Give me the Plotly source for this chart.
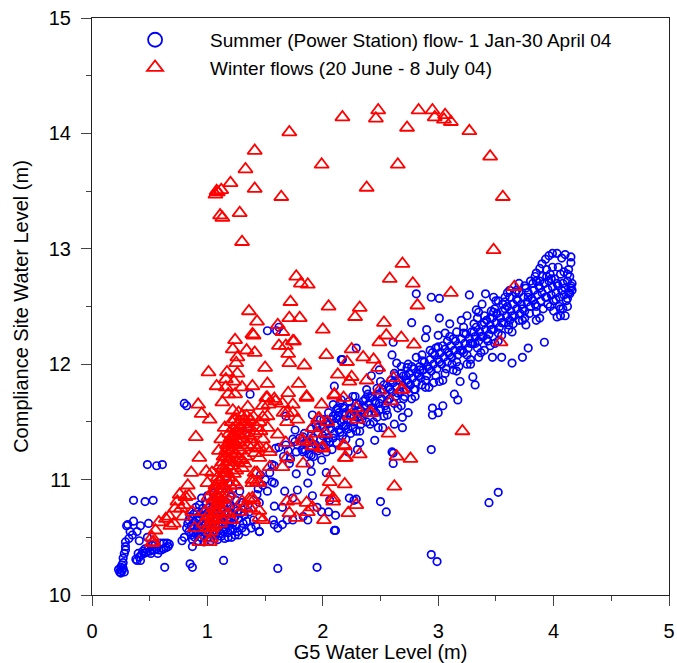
import plotly.graph_objects as go

# ---- Summer (Power Station) flow: (G5 level, Compliance level) pairs ----
summer_hook_pts = [
    (0.24,10.20),(0.25,10.19),(0.26,10.21),(0.23,10.22),(0.27,10.23),(0.25,10.24),(0.28,10.20),
    (0.26,10.26),(0.27,10.28),(0.27,10.32),(0.28,10.36),(0.29,10.39),(0.29,10.42),(0.29,10.46),
    (0.32,10.49),(0.30,10.60),(0.31,10.61),(0.36,10.82),(0.46,10.81),(0.53,10.82),(0.48,11.13),
    (0.56,11.12),(0.61,11.13),(0.39,10.55),(0.42,10.60),(0.49,10.62),(0.41,10.47),(0.48,10.50),
    (0.39,10.30),(0.41,10.33),(0.43,10.35),(0.45,10.36),(0.47,10.37),(0.50,10.38),(0.52,10.39),
    (0.54,10.39),(0.56,10.40),(0.58,10.39),(0.60,10.39),(0.62,10.40),(0.64,10.41),(0.66,10.42),
    (0.67,10.44),(0.65,10.45),(0.62,10.45),(0.59,10.45),(0.55,10.44),(0.52,10.43),(0.49,10.41),
    (0.46,10.40),(0.44,10.38),(0.40,10.36),(0.38,10.31),(0.42,10.30),(0.51,10.36),(0.57,10.36),
    (0.63,10.24),(0.87,10.42),(0.85,10.27),(0.87,10.24),(1.14,10.30),(1.61,10.23),(1.95,10.24),
    (0.35,10.52),(0.33,10.55),(0.36,10.64),
]
summer_blob_pts = [
    (0.82,10.58),(0.84,10.55),(0.86,10.52),(0.88,10.54),(0.90,10.56),(0.92,10.53),(0.94,10.55),
    (0.96,10.52),(0.98,10.54),(1.00,10.56),(1.02,10.53),(1.04,10.55),(1.06,10.52),(1.08,10.54),
    (1.10,10.56),(1.12,10.53),(1.14,10.55),(1.16,10.57),(1.18,10.54),(1.20,10.56),(0.83,10.62),
    (0.86,10.60),(0.89,10.63),(0.92,10.60),(0.95,10.62),(0.98,10.60),(1.01,10.63),(1.04,10.61),
    (1.07,10.64),(1.10,10.61),(1.13,10.63),(1.16,10.62),(1.19,10.64),(1.22,10.62),(1.25,10.60),
    (0.85,10.68),(0.88,10.70),(0.91,10.67),(0.94,10.70),(0.97,10.68),(1.00,10.71),(1.03,10.69),
    (1.06,10.72),(1.09,10.70),(1.12,10.73),(1.15,10.70),(1.18,10.72),(1.21,10.70),(1.24,10.68),
    (1.27,10.66),(0.90,10.76),(0.93,10.78),(0.96,10.75),(0.99,10.79),(1.02,10.76),(1.05,10.80),
    (1.08,10.77),(1.11,10.81),(1.14,10.78),(1.17,10.80),(1.20,10.77),(1.23,10.75),(1.26,10.73),
    (1.29,10.71),(1.32,10.69),(0.95,10.84),(1.00,10.86),(1.05,10.88),(1.10,10.85),(1.15,10.88),
    (1.20,10.85),(1.25,10.82),(1.30,10.80),(1.35,10.78),(0.87,10.48),(0.92,10.47),(0.97,10.46),
    (1.03,10.47),(1.09,10.48),(1.15,10.49),(1.21,10.50),(1.27,10.52),(1.33,10.55),(1.38,10.58),
    (1.42,10.60),(1.45,10.55),(1.40,10.65),(1.36,10.72),(1.22,10.92),(1.18,10.97),(1.28,10.90),
    (0.80,10.50),(0.78,10.47),
    (0.84,10.65),(0.88,10.58),(0.91,10.72),(0.95,10.58),(0.99,10.66),(1.03,10.58),(1.07,10.60),
    (1.11,10.67),(1.15,10.59),(1.19,10.60),(1.23,10.66),(1.26,10.55),(1.31,10.62),(1.34,10.64),
    (0.89,10.50),(0.94,10.50),(1.00,10.50),(1.06,10.49),(1.12,10.51),(1.18,10.50),(1.24,10.52),
    (1.30,10.58),(0.87,10.66),(0.93,10.65),(0.97,10.72),(1.02,10.70),(1.08,10.67),(1.13,10.68),
    (1.17,10.66),(1.22,10.57),
]
summer_mid_pts = [
    (0.80,11.66),(0.82,11.64),(1.37,11.74),(1.52,12.29),(1.60,12.29),(1.62,12.32),(2.17,12.04),
    (1.68,11.55),(2.09,11.65),(2.12,11.61),(2.16,11.69),(2.03,11.50),(1.83,11.37),(1.76,11.33),
    (1.35,11.44),(1.46,11.04),(1.56,11.13),(1.59,11.27),(1.76,11.43),(1.61,10.58),(1.69,10.65),
    (1.74,10.65),(1.78,10.91),(1.87,10.97),(1.91,10.86),(1.95,10.76),(1.99,10.72),(1.87,10.65),
    (2.11,10.69),(2.11,10.56),(2.23,10.84),(2.27,10.82),(1.91,11.56),(1.74,11.35),(1.68,11.30),
    (1.77,11.24),(1.83,11.24),(1.90,11.21),(1.71,11.14),(1.89,11.14),(1.99,11.17),(2.03,11.06),
    (1.90,11.07),(1.77,11.05),(1.58,10.97),(1.67,10.90),(2.12,11.32),(2.08,11.26),(2.22,11.24),
    (2.32,11.32),(2.30,11.26),(2.45,11.34),(2.60,11.24),(2.61,11.14),(2.29,10.83),(2.50,10.81),
    (2.55,10.72),(2.10,10.56),(1.45,10.55),(1.57,10.65),(1.65,10.61),(1.58,10.61),(1.74,10.84),
    (1.65,10.76),(1.58,10.77),(1.83,10.68),(1.45,10.80),(1.43,10.87),(2.06,10.82),(2.05,10.72),
    (3.52,10.89),(3.44,10.80),(2.94,10.35),(2.99,10.29),(2.94,11.26),(1.78,11.30),(1.80,11.36),
    (1.82,11.26),(1.84,11.40),(1.86,11.32),(1.88,11.22),(1.90,11.44),(1.92,11.20),(1.94,11.48),
    (1.96,11.25),(1.98,11.52),(2.01,11.30),(2.03,11.24),(2.06,11.33),(2.09,11.55),(2.14,11.58),
    (2.18,11.62),(2.23,11.68),(2.28,11.72),(1.70,11.25),(1.72,11.18),(1.66,11.20),(1.62,11.28),
    (1.58,11.12),(1.54,11.06),(1.50,11.00),(1.48,10.95),(1.44,10.92),(1.52,10.90),(1.56,10.98),
]
summer_band_pts = [
    (1.85,11.25),(1.88,11.32),(1.90,11.28),(1.92,11.36),(1.94,11.30),(1.96,11.40),(1.98,11.34),
    (2.00,11.45),(2.00,11.38),(2.02,11.42),(2.04,11.48),(2.05,11.36),(2.07,11.44),(2.08,11.52),
    (2.10,11.40),(2.11,11.47),(2.13,11.55),(2.14,11.43),(2.16,11.50),(2.18,11.46),(2.19,11.58),
    (2.21,11.52),(2.22,11.44),(2.24,11.56),(2.25,11.62),(2.27,11.50),(2.28,11.58),(2.30,11.54),
    (2.31,11.65),(2.33,11.60),(2.34,11.52),(2.36,11.63),(2.37,11.70),(2.39,11.58),(2.40,11.66),
    (2.42,11.62),(2.43,11.72),(2.45,11.68),(2.46,11.58),(2.48,11.74),(2.49,11.66),(2.51,11.70),
    (2.52,11.78),(2.54,11.64),(2.55,11.73),(2.57,11.80),(2.58,11.70),(2.60,11.76),(2.61,11.84),
    (2.63,11.72),(2.64,11.80),(2.66,11.86),(2.67,11.76),(2.69,11.82),(2.70,11.90),(2.72,11.78),
    (2.73,11.86),(2.75,11.92),(2.76,11.82),(2.78,11.88),(2.79,11.96),(2.81,11.84),(2.82,11.92),
    (2.84,11.98),(2.85,11.88),(2.87,11.95),(2.88,12.02),(2.90,11.90),(2.91,11.98),(2.93,12.04),
    (2.94,11.94),(2.96,12.00),(2.97,12.08),(2.99,11.96),(3.00,12.04),(3.02,12.10),(3.03,12.00),
    (3.05,12.06),(3.06,12.13),(3.08,12.02),(3.09,12.10),(3.11,12.16),(3.12,12.06),(3.14,12.12),
    (3.15,12.20),(3.17,12.08),(3.18,12.16),(3.20,12.22),(3.21,12.12),(3.23,12.18),(3.24,12.26),
    (3.26,12.14),(3.27,12.22),(3.29,12.28),(3.30,12.18),(3.32,12.24),(3.33,12.32),(3.35,12.20),
    (3.36,12.28),(3.38,12.34),(3.39,12.24),(3.41,12.30),(3.42,12.38),(3.44,12.26),(3.45,12.34),
    (3.47,12.40),(3.48,12.30),(3.50,12.36),(3.51,12.44),(3.53,12.32),(3.54,12.40),(3.56,12.46),
    (3.57,12.36),(3.59,12.42),(3.60,12.50),(3.62,12.38),(3.63,12.46),(3.65,12.52),(3.66,12.42),
    (3.68,12.48),(3.69,12.55),(3.71,12.44),(3.72,12.52),(3.74,12.58),(3.75,12.46),(3.77,12.54),
    (3.78,12.62),(3.80,12.50),(3.81,12.57),(3.83,12.64),(3.84,12.52),(3.86,12.60),(3.87,12.68),
    (3.89,12.55),(3.90,12.62),(3.92,12.70),(3.93,12.58),(3.95,12.65),(3.96,12.72),(3.98,12.60),
    (3.99,12.67),(4.01,12.74),(4.02,12.62),(4.04,12.68),(4.05,12.58),(4.07,12.64),(4.08,12.70),
    (4.10,12.66),(4.12,12.72),(4.13,12.62),(4.15,12.68),
    (2.05,11.58),(2.15,11.66),(2.20,11.35),(2.26,11.72),(2.32,11.42),(2.38,11.78),(2.44,11.50),
    (2.50,11.85),(2.56,11.56),(2.62,11.92),(2.68,11.64),(2.74,12.00),(2.80,11.72),(2.86,12.08),
    (2.92,11.80),(2.98,12.14),(3.04,11.86),(3.10,12.24),(3.16,11.94),(3.22,12.32),(3.28,12.04),
    (3.34,12.40),(3.40,12.12),(3.46,12.46),(3.52,12.20),(3.58,12.54),(3.64,12.28),(3.70,12.62),
    (3.76,12.34),(3.82,12.70),(3.88,12.40),(3.94,12.76),(4.00,12.46),(4.06,12.78),(4.11,12.55),
    (3.97,12.50),(3.85,12.45),(3.73,12.38),(3.61,12.30),(3.49,12.18),(3.37,12.10),(3.25,12.00),
    (3.13,11.95),(3.01,11.85),(2.89,11.80),(2.77,11.70),(2.65,11.62),(2.53,11.55),(2.41,11.48),
    (2.29,11.42),(2.17,11.38),
    (2.81,12.61),(2.94,12.58),(3.01,12.57),(2.77,12.36),(2.29,12.14),(2.61,12.19),(2.89,12.23),
    (3.01,12.40),(3.06,12.27),(2.60,12.08),(2.16,12.04),(2.81,12.06),(2.10,11.81),(2.42,11.90),
    (2.64,12.01),(2.68,11.98),(2.73,11.97),(2.49,11.95),(3.41,12.61),(3.52,12.55),(3.78,12.14),
    (3.73,12.06),(3.64,12.01),(3.55,12.06),(3.47,12.06),(3.32,11.82),(3.30,11.89),(3.19,11.85),
    (3.14,11.74),(3.17,11.69),(3.04,11.64),(2.95,11.62),(2.95,11.56),(3.00,11.58),(2.74,11.58),
    (2.69,11.54),(2.62,11.48),(2.69,11.45),(2.52,11.45),(2.48,11.45),(2.61,11.23),
    (3.60,12.62),(3.70,12.70),(3.50,12.55),(3.35,12.45),(3.45,12.40),(2.90,12.30),(3.10,12.35),
    (3.20,12.38),(3.00,12.25),(3.25,12.42),
]
summer_band_fill_pts = [
    (1.95,11.45),(1.97,11.27),(2.01,11.52),(2.03,11.33),(2.06,11.49),(2.09,11.36),(2.12,11.53),
    (2.15,11.41),(2.17,11.57),(2.20,11.47),(2.23,11.61),(2.26,11.45),(2.29,11.66),(2.32,11.55),
    (2.35,11.68),(2.38,11.50),(2.41,11.71),(2.44,11.62),(2.47,11.79),(2.50,11.61),(2.53,11.82),
    (2.56,11.68),(2.59,11.86),(2.62,11.66),(2.65,11.75),(2.68,11.92),(2.71,11.72),(2.74,11.84),
    (2.77,11.98),(2.80,11.78),(2.83,11.90),(2.86,12.03),(2.89,11.86),(2.92,11.96),(2.95,12.10),
    (2.98,11.90),(3.01,12.02),(3.04,12.16),(3.07,11.96),(3.10,12.08),(3.13,12.22),(3.16,12.02),
    (3.19,12.12),(3.22,12.27),(3.25,12.08),(3.28,12.18),(3.31,12.35),(3.34,12.14),(3.37,12.24),
    (3.40,12.42),(3.43,12.20),(3.46,12.30),(3.49,12.48),(3.52,12.27),(3.55,12.36),(3.58,12.58),
    (3.61,12.34),(3.64,12.42),(3.67,12.62),(3.70,12.38),(3.73,12.48),(3.76,12.66),(3.79,12.44),
    (3.82,12.55),(3.85,12.38),(3.88,12.66),(3.91,12.48),(3.94,12.58),(3.97,12.78),(4.00,12.55),
    (4.03,12.70),(4.06,12.48),(4.09,12.60),(4.12,12.50),(4.14,12.76),(4.16,12.64),(4.09,12.80),
    (4.04,12.84),(3.99,12.84),(3.94,12.82),(3.90,12.76),(3.80,12.72),(3.75,12.68),(3.68,12.64),
    (3.62,12.58),(3.56,12.52),(3.48,12.45),(3.40,12.36),(3.31,12.28),(3.22,12.10),(3.16,12.28),
    (3.08,12.20),(3.00,12.15),(2.93,12.12),(2.86,11.82),(2.79,11.78),(2.70,11.70),(2.63,11.90),
    (2.55,11.60),(2.47,11.54),(2.39,11.74),(2.33,11.48),(2.24,11.40),(2.13,11.62),(3.55,12.25),
    (3.65,12.35),(3.75,12.40),(3.85,12.50),(3.95,12.52),(4.02,12.56),(3.45,12.16),(3.35,12.06),
    (3.28,12.00),(3.18,11.98),(3.06,11.92),(2.96,11.84),(3.58,12.48),(3.68,12.56),(3.78,12.58),
    (3.88,12.72),(3.98,12.74),(3.42,12.22),(3.32,12.18),(3.12,12.00),(2.84,11.95),(2.72,11.90),
    (2.58,11.78),(2.46,11.66),(2.36,11.58),(2.27,11.55),(2.18,11.52),
    (3.38,12.52),(3.48,12.58),(3.27,12.60),(3.62,12.64),(3.33,12.47),
]
summer_loop_pts = [
    (4.03,12.96),(4.10,12.95),(4.15,12.93),(4.15,12.88),(4.13,12.82),(4.12,12.78),(3.99,12.96),
    (3.96,12.94),(3.93,12.91),(3.90,12.87),(3.88,12.83),(3.85,12.79),(3.84,12.76),(3.85,12.72),
    (4.16,12.70),(4.15,12.66),(4.14,12.61),(4.12,12.57),(4.10,12.42),(4.06,12.42),(4.03,12.41),
    (3.92,12.19),(4.07,12.92),(4.05,12.50),(4.08,12.48),
]

# ---- Winter flows: (G5 level, Compliance level) pairs ----
winter_top_pts = [
    (2.17,14.14),(2.48,14.20),(2.46,14.13),(2.83,14.20),(2.95,14.20),(2.97,14.14),(3.06,14.16),
    (3.05,14.12),(3.11,14.10),(3.27,14.02),(2.73,14.05),(3.45,13.80),(2.65,13.73),(2.38,13.53),
    (3.56,13.45),(3.48,12.99),(2.69,12.87),(2.58,12.74),(2.78,12.70),(3.11,12.62),(3.66,12.67),
    (2.82,12.51),(2.32,12.49),(1.71,14.01),(1.41,13.85),(1.33,13.69),(1.20,13.57),(1.07,13.47),
    (1.09,13.49),(1.08,13.50),(1.12,13.51),(1.41,13.52),(1.64,13.45),(1.99,13.73),(1.11,13.29),
    (1.13,13.27),(1.28,13.31),(1.30,13.06),(1.77,12.76),(1.81,12.70),(1.87,12.69),
]
winter_mid_pts = [
    (1.72,12.54),(1.36,12.46),(1.43,12.37),(2.05,12.50),(2.28,12.41),(2.53,12.36),(2.00,12.30),
    (1.61,12.34),(1.80,12.40),(1.71,12.40),(1.40,12.25),(1.65,12.28),(1.75,12.20),(1.62,12.16),
    (1.68,12.16),(1.24,12.21),(1.22,12.13),(1.34,12.12),(1.41,12.10),(1.26,12.06),(1.25,12.01),
    (1.70,12.09),(1.71,12.01),(1.50,11.97),(1.84,11.99),(1.01,11.93),(1.17,11.93),(1.26,11.92),
    (2.03,12.08),(2.21,12.02),(2.25,12.13),(2.35,12.06),(2.44,12.04),(2.49,12.19),(2.55,12.25),
    (2.13,11.91),(2.25,11.89),(2.48,11.97),(2.68,12.23),(2.79,12.17),(2.61,11.88),(2.38,11.86),
    (2.49,11.77),(2.68,11.78),(2.10,11.74),(2.18,11.71),(1.86,11.72),(1.39,12.26),(1.74,12.20),
    (1.23,11.85),(2.23,11.85),(1.16,11.87),(1.08,11.81),(1.16,11.80),(1.30,11.80),(1.39,11.81),
    (1.18,11.74),(1.24,11.74),(1.51,11.71),(1.58,11.70),(1.65,11.66),(0.92,11.65),(1.13,11.67),
    (1.35,11.63),(1.22,11.60),(1.66,11.58),(0.95,11.57),(1.02,11.52),(1.40,11.54),(1.45,11.50),
    (0.90,11.37),(0.93,11.19),(1.97,11.53),(2.02,11.40),(1.91,11.29),(2.00,11.28),(2.18,11.30),
    (2.19,11.19),(1.83,11.33),(1.54,11.24),(1.45,11.28),(1.41,11.23),
    (1.52,11.83),(1.79,11.83),(1.70,11.75),(1.86,11.71),(1.52,11.71),(1.59,11.68),(1.53,11.65),
    (1.48,11.64),(1.74,11.65),(1.69,11.58),(1.74,11.58),(1.78,11.52),(1.69,11.50),(1.52,11.55),
    (1.48,11.54),(1.43,11.45),(1.52,11.45),(1.61,11.39),(1.68,11.32),(1.82,11.35),(1.91,11.45),
    (1.96,11.53),(2.04,11.50),(1.99,11.65),(2.10,11.73),(2.29,11.62),(2.23,11.55),(2.30,11.52),
    (2.42,11.58),(2.59,11.68),(2.69,11.78),(2.57,11.40),(1.95,11.40),(1.89,11.33),(1.99,11.27),
    (2.19,11.29),(2.32,11.22),(2.20,11.19),(2.64,11.20),(2.76,11.18),(1.83,11.14),(1.69,11.19),
    (1.51,11.27),(1.43,11.27),(1.45,11.19),(1.65,11.11),(1.54,11.11),(1.43,11.06),(1.39,11.00),
    (1.45,10.97),(2.09,11.06),(2.06,10.98),(2.19,10.96),(2.62,10.94),(2.04,10.89),(2.09,10.84),
    (2.09,10.81),(1.69,10.81),(1.75,10.82),(1.86,10.80),(1.91,10.76),(1.87,10.72),(2.29,10.78),
    (1.71,10.71),(1.45,10.73),(1.48,10.65),(1.39,10.84),(1.77,10.67),(2.22,10.71),(2.01,10.65),
    (1.37,10.75),(3.21,11.42),(2.41,11.58),(3.54,12.19),
]
winter_cluster_pts = [
    (0.86,11.06),(0.83,10.95),(0.76,10.87),(0.81,10.85),(0.84,10.86),(0.74,10.81),(0.80,10.78),
    (0.72,10.75),(0.77,10.75),(0.87,10.72),(0.79,10.68),(0.67,10.68),(0.64,10.66),(0.71,10.62),
    (0.68,10.60),(0.58,10.63),(0.55,10.56),(0.52,10.50),(0.53,10.46),(0.52,10.45),(0.89,10.58),
    (0.93,10.46),(1.03,10.49),(1.02,10.46),(1.04,10.58),(0.99,11.07),(1.04,11.06),(1.00,10.97),
    (1.11,11.00),(1.17,11.06),(1.30,11.17),(1.32,11.14),(1.41,11.06),(1.39,10.97),(1.43,10.98),
    (1.36,10.83),(1.40,10.82),(1.32,10.76),(1.37,10.75),(1.45,10.67),(1.28,10.72),(1.30,10.81),
    (1.13,10.65),(1.21,10.65),
    (1.02,10.62),(1.04,10.66),(1.05,10.70),(1.07,10.72),(1.06,10.75),(1.08,10.78),(1.09,10.80),
    (1.10,10.83),(1.08,10.86),(1.11,10.88),(1.12,10.92),(1.13,10.95),(1.10,10.98),(1.14,11.02),
    (1.15,11.05),(1.16,11.08),(1.13,11.10),(1.17,11.12),(1.18,11.15),(1.19,11.18),(1.16,11.20),
    (1.20,11.23),(1.21,11.26),(1.18,11.28),(1.22,11.30),(1.23,11.33),(1.20,11.36),(1.24,11.38),
    (1.25,11.42),(1.22,11.44),(1.26,11.47),(1.28,11.50),(1.24,11.52),(1.30,11.55),(1.27,11.58),
    (1.32,11.40),(1.35,11.45),(1.30,11.35),(1.28,11.25),(1.26,11.15),(1.23,11.05),(1.20,10.95),
    (1.16,10.85),(1.12,10.75),(1.06,10.65),(1.00,10.68),(0.98,10.72),(1.03,10.78),(1.01,10.85),
    (1.05,10.90),(1.07,10.95),(1.09,11.02),(1.11,11.12),(1.14,11.20),(1.17,11.30),(1.19,11.40),
    (1.21,11.50),(1.15,11.45),(1.12,11.35),(1.10,11.25),(1.35,11.30),(1.38,11.35),(1.33,11.20),
    (1.30,11.10),(1.25,10.95),(1.18,10.70),
    (1.29,11.45),(1.33,11.50),(1.37,11.52),(1.41,11.40),(1.46,11.42),(1.48,11.35),(1.40,11.30),
    (1.36,11.38),(1.31,11.28),(1.27,11.32),(1.24,11.22),(1.21,11.12),(1.18,11.02),(1.15,10.92),
    (1.12,10.82),(1.09,10.72),(1.06,10.60),(1.03,10.55),(1.11,10.62),(1.14,10.72),(1.17,10.78),
    (1.19,10.88),(1.22,10.98),(1.25,11.08),(1.28,11.18),(1.31,11.48),(1.34,11.55),(1.28,11.40),
    (1.24,11.30),(1.01,10.58),(0.97,10.62),(1.05,10.83),(1.08,10.92),(1.13,11.15),(1.16,11.25),
    (1.19,11.32),(1.22,11.38),
]

summer_pts = (summer_hook_pts + summer_blob_pts + summer_mid_pts + summer_band_pts
              + summer_band_fill_pts + summer_loop_pts)
winter_pts = winter_top_pts + winter_mid_pts + winter_cluster_pts
summer_x = [p[0] for p in summer_pts]
summer_y = [p[1] for p in summer_pts]
winter_x = [p[0] for p in winter_pts]
winter_y = [p[1] for p in winter_pts]

summer_name = "Summer (Power Station) flow- 1 Jan-30 April 04"
winter_name = "Winter flows (20 June - 8 July 04)"

BLUE = "#0000FF"
RED = "#FF0000"
FONT = "Liberation Sans, Arial, sans-serif"

fig = go.Figure()
fig.add_trace(go.Scatter(x=summer_x, y=summer_y, mode="markers", showlegend=False,
                         marker=dict(symbol="circle-open", size=7.5, color=BLUE, line=dict(width=1.7))))
fig.add_trace(go.Scatter(x=winter_x, y=winter_y, mode="markers", showlegend=False,
                         marker=dict(symbol="triangle-up-open", size=12.5, color=RED, line=dict(width=1.8))))
# legend entries
fig.add_trace(go.Scatter(x=[None], y=[None], mode="markers", name=summer_name,
                         marker=dict(symbol="circle-open", size=14, color=BLUE, line=dict(width=1.8))))
fig.add_trace(go.Scatter(x=[None], y=[None], mode="markers", name=winter_name,
                         marker=dict(symbol="triangle-up-open", size=14, color=RED, line=dict(width=1.8))))

axis_common = dict(showline=True, linecolor="#222", linewidth=1.2, mirror=True,
                   ticks="outside", ticklen=10, tickwidth=1.2, tickcolor="#444",
                   showgrid=False, zeroline=False, automargin=False,
                   tickfont=dict(family=FONT, size=20, color="black"),
                   minor=dict(dtick=0.5, ticks="outside", ticklen=5, tickwidth=1.2, tickcolor="#444"))

fig.update_xaxes(range=[0, 5], dtick=1, tick0=0, ticklabelstandoff=8,
                 title=dict(text="G5 Water Level (m)", font=dict(family=FONT, size=20, color="black"), standoff=6),
                 **axis_common)
fig.update_yaxes(range=[10, 15], dtick=1, tick0=10, ticklabelstandoff=6,
                 title=dict(text="Compliance Site Water Level (m)", font=dict(family=FONT, size=20, color="black"), standoff=14),
                 **axis_common)

fig.update_layout(
    width=677, height=663,
    margin=dict(l=92, r=8, t=18, b=68),
    plot_bgcolor="white", paper_bgcolor="white",
    font=dict(family=FONT, size=19, color="black"),
    legend=dict(x=0.014, y=0.995, xanchor="left", yanchor="top", bgcolor="rgba(0,0,0,0)",
                font=dict(family=FONT, size=19, color="black"), itemwidth=100, tracegroupgap=0),
)

fig.write_html("out.html")
